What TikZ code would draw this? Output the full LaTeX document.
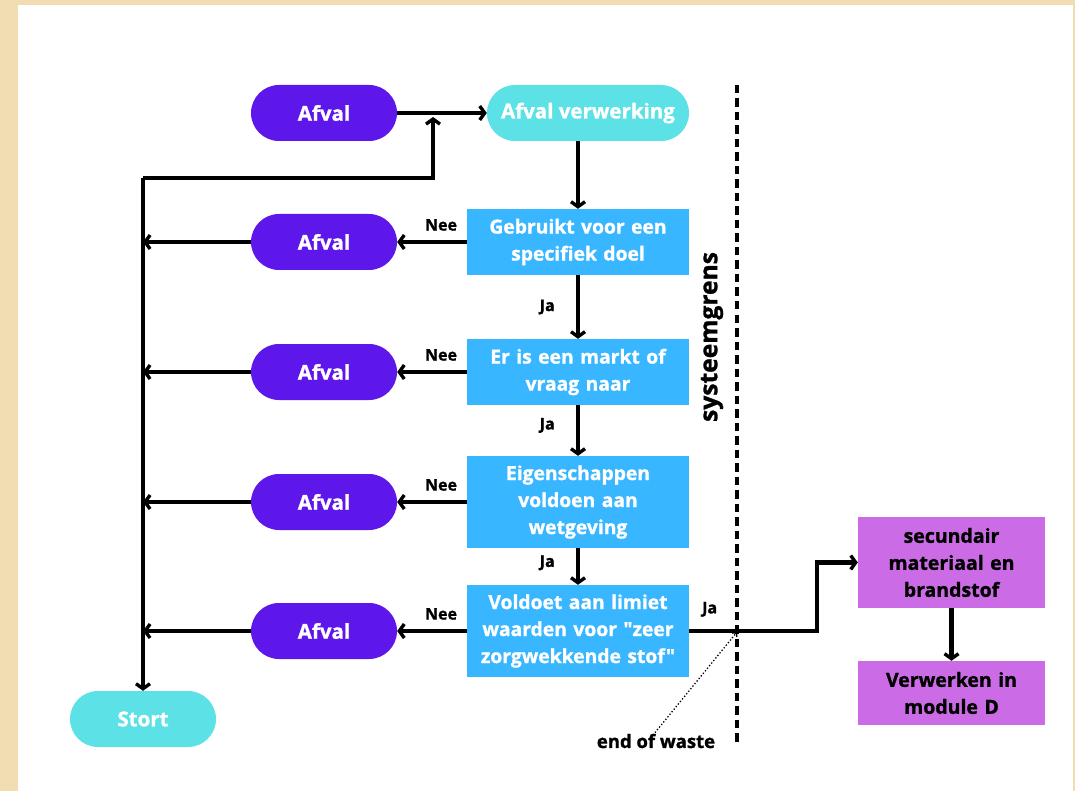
\documentclass[tikz,border=0pt]{standalone}
\usepackage{fontspec}
\setmainfont{Open Sans}[Ligatures=TeXOff, BoldFont={* Bold}, BoldFeatures={FakeBold=1.2}]
\usetikzlibrary{arrows.meta}
\definecolor{bgbeige}{HTML}{F1DDB1}
\definecolor{cpurple}{HTML}{5E17EB}
\definecolor{ccyan}{HTML}{5CE1E6}
\definecolor{cblue}{HTML}{38B6FF}
\definecolor{cmag}{HTML}{CB6CE6}
\tikzset{
  pill/.style={draw=none, rounded corners=28pt, minimum width=146pt, minimum height=56pt, inner sep=0pt, text=white, font=\fontsize{20.5}{24}\selectfont\bfseries},
  bluebox/.style={draw=none, fill=cblue, minimum width=222pt, text width=220pt, align=center, inner sep=0pt, text=white, font=\fontsize{19.3}{27}\selectfont\bfseries},
  magbox/.style={draw=none, fill=cmag, minimum width=187pt, text width=185pt, align=center, inner sep=0pt, text=black, font=\fontsize{19.5}{27}\selectfont\bfseries},
  arr/.style={line width=4.5pt, -{Straight Barb[length=5pt,width=14pt,line width=3.4pt]}},
  lbl/.style={font=\fontsize{16}{18}\selectfont\bfseries, text=black, inner sep=0pt}
}
\begin{document}
\begin{tikzpicture}[x=1pt,y=-1pt]
\fill[bgbeige] (0,0) rectangle (1075,791);
\fill[white] (18,5) rectangle (1073,791);
\useasboundingbox (0,0) rectangle (1075,791);

% nodes
\node[pill, fill=cpurple] (a1) at (324,113) {Afval};
\node[pill, fill=ccyan, minimum width=202pt] (verw) at (588,113) {Afval verwerking};
\node[bluebox, minimum height=66pt] (q1) at (578,242) {Gebruikt voor een\\specifiek doel};
\node[bluebox, minimum height=66pt] (q2) at (578,372) {Er is een markt of\\vraag naar};
\node[bluebox, minimum height=92pt] (q3) at (578,502) {Eigenschappen\\voldoen aan\\wetgeving};
\node[bluebox, minimum height=92pt] (q4) at (578,631) {Voldoet aan limiet\\waarden voor "zeer\\zorgwekkende stof"};
\node[pill, fill=cpurple] (a2) at (324,242) {Afval};
\node[pill, fill=cpurple] (a3) at (324,372) {Afval};
\node[pill, fill=cpurple] (a4) at (324,502) {Afval};
\node[pill, fill=cpurple] (a5) at (324,631) {Afval};
\node[pill, fill=ccyan] (stort) at (143,719) {Stort};
\node[magbox, minimum height=91pt] (sec) at (951.5,562.5) {secundair\\materiaal en\\brandstof};
\node[magbox, minimum height=64pt] (mod) at (951.5,693) {Verwerken in\\module D};

\node[font=\fontsize{24.6}{28}\selectfont\bfseries, rotate=90, inner sep=0pt] (sg) at (712,337) {systeemgrens};
\node[font=\fontsize{18.5}{22}\selectfont\bfseries, inner sep=0pt] (eow) at (656,741) {end of waste};

% coordinates
\coordinate (tl) at (143,178);
\coordinate (jn) at (433,113);
\coordinate (l2) at (143,242);
\coordinate (l3) at (143,372);
\coordinate (l4) at (143,502);
\coordinate (l5) at (143,631);
\coordinate (bend) at (817,631);
\coordinate (dtop) at (737,85);
\coordinate (dbot) at (737,746);
\coordinate (cross) at (737,632);

% system boundary
\draw[line width=3.8pt, dash pattern=on 8.5pt off 5pt] (dtop) -- (dbot);

% connectors
\draw[arr] (a1.east) -- (verw.west);
\draw[arr] (tl) -| ([yshift=-4pt]jn);
\draw[arr] (tl) -- (stort.north);
\draw[arr] (verw.south -| q1.north) -- (q1.north);
\draw[arr] (q1.south) -- node[lbl, left=21pt, pos=0.5] {Ja} (q2.north);
\draw[arr] (q2.south) -- node[lbl, left=21pt, pos=0.4] {Ja} (q3.north);
\draw[arr] (q3.south) -- node[lbl, left=21pt, pos=0.4] {Ja} (q4.north);
\draw[arr] (q1.west) -- node[lbl, above=9pt, pos=0.37] {Nee} (a2.east);
\draw[arr] (q2.west) -- node[lbl, above=9pt, pos=0.37] {Nee} (a3.east);
\draw[arr] (q3.west) -- node[lbl, above=9pt, pos=0.37] {Nee} (a4.east);
\draw[arr] (q4.west) -- node[lbl, above=9pt, pos=0.37] {Nee} (a5.east);
\draw[arr] (a2.west) -- (l2);
\draw[arr] (a3.west) -- (l3);
\draw[arr] (a4.west) -- (l4);
\draw[arr] (a5.west) -- (l5);
\draw[arr] (q4.east) -- node[lbl, above=12pt, pos=0.16] {Ja} (bend) |- (sec.west);
\draw[arr] (sec.south) -- (mod.north);
\draw[line width=1.3pt, dotted, -{Straight Barb[length=3pt,width=6pt]}] ([xshift=-1pt,yshift=1pt]eow.north) -- (cross);
\end{tikzpicture}
\end{document}
